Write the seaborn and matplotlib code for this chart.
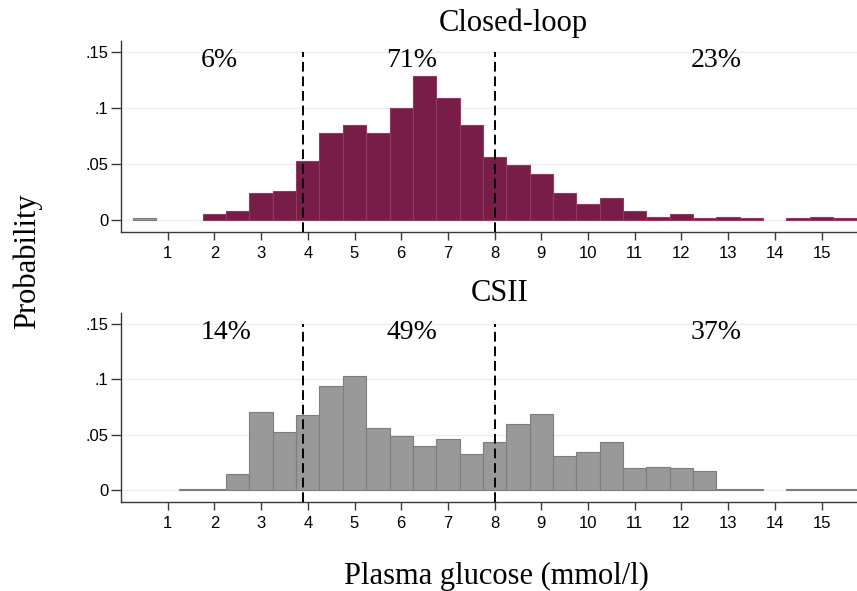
import numpy as np
import pandas as pd
import matplotlib
matplotlib.use("Agg")
import matplotlib.pyplot as plt
import seaborn as sns

# ---- data (bin midpoints in mmol/l, probability per 0.5 mmol/l bin) ----
cl_glucose = [2.0, 2.5, 3.0, 3.5, 4.0, 4.5, 5.0, 5.5, 6.0, 6.5, 7.0, 7.5, 8.0,
              8.5, 9.0, 9.5, 10.0, 10.5, 11.0, 11.5, 12.0, 12.5, 13.0, 13.5,
              14.5, 15.0, 15.5]
cl_prob = [0.005, 0.008, 0.024, 0.026, 0.053, 0.078, 0.085, 0.078, 0.100, 0.129,
           0.109, 0.085, 0.056, 0.049, 0.041, 0.024, 0.014, 0.020, 0.008, 0.003,
           0.005, 0.002, 0.003, 0.002, 0.002, 0.003, 0.002]
cl_grey_glucose = [0.5]
cl_grey_prob = [0.002]

csii_glucose = [1.5, 2.0, 2.5, 3.0, 3.5, 4.0, 4.5, 5.0, 5.5, 6.0, 6.5, 7.0, 7.5,
                8.0, 8.5, 9.0, 9.5, 10.0, 10.5, 11.0, 11.5, 12.0, 12.5, 13.0,
                13.5, 14.5, 15.0, 15.5]
csii_prob = [0.001, 0.001, 0.014, 0.070, 0.052, 0.068, 0.094, 0.103, 0.056, 0.049,
             0.040, 0.046, 0.032, 0.043, 0.060, 0.069, 0.031, 0.034, 0.043, 0.020,
             0.021, 0.020, 0.017, 0.001, 0.001, 0.001, 0.001, 0.001]

cutoffs = [3.9, 8.0]
cl_pct = ["6%", "71%", "23%"]
csii_pct = ["14%", "49%", "37%"]
pct_x = [1.7, 5.68, 12.2]
titles = ["Closed-loop", "CSII"]
yticks = [0, 0.05, 0.1, 0.15]
ytick_labels = ["0", ".05", ".1", ".15"]
xticks = list(range(1, 16))

MAROON = "#781d47"
MAROON_EDGE = "#8f3b62"
GREY = "#999999"
GREY_EDGE = "#7d7d7d"
GRID = "#e8eff0"
SPINE = "#3a3a3a"

sns.set_style("white")
plt.rcParams["font.family"] = ["Liberation Sans", "DejaVu Sans"]
plt.rcParams["text.color"] = "black"
SERIF = ["Liberation Serif", "DejaVu Serif"]

fig = plt.figure(figsize=(8.57, 5.91), dpi=100)
ax_top = fig.add_axes([121 / 857, 1 - 232 / 591, 1 - 121 / 857, (232 - 40.7) / 591])
ax_bot = fig.add_axes([121 / 857, 1 - 501.7 / 591, 1 - 121 / 857, (501.7 - 312.7) / 591])

ylo, yhi = -0.0108, 0.1604


def hist(ax, xs, ws, color, edge):
    df = pd.DataFrame({"glucose": xs, "prob": ws})
    lo = min(xs) - 0.25
    hi = max(xs) + 0.25
    before = len(ax.patches)
    sns.histplot(data=df, x="glucose", weights="prob", binwidth=0.5,
                 binrange=(lo, hi), ax=ax, color=color, edgecolor=edge,
                 alpha=1, linewidth=0.8, zorder=2)
    # drop empty bins so they leave no outline
    for p in list(ax.patches[before:]):
        if p.get_height() <= 0:
            p.remove()


def style(ax):
    ax.set_xlim(0, 15.76)
    ax.set_ylim(ylo, yhi)
    ax.set_yticks(yticks)
    ax.set_yticklabels(ytick_labels)
    ax.set_xticks(xticks)
    ax.set_xticklabels([str(t) for t in xticks])
    for y in yticks:
        ax.axhline(y, color=GRID, lw=1.0, zorder=0)
    for s in ["top", "right"]:
        ax.spines[s].set_visible(False)
    for s in ["left", "bottom"]:
        ax.spines[s].set_color(SPINE)
        ax.spines[s].set_linewidth(1.0)
    ax.tick_params(axis="y", left=True, direction="out", length=7, width=1,
                   color=SPINE, labelsize=12, pad=2, labelcolor="black")
    ax.tick_params(axis="x", bottom=True, direction="out", length=6, width=1,
                   color=SPINE, labelsize=12, pad=4, labelcolor="black")
    ax.set_xlabel("")
    ax.set_ylabel("")


hist(ax_top, cl_grey_glucose, cl_grey_prob, GREY, GREY_EDGE)
hist(ax_top, cl_glucose, cl_prob, MAROON, MAROON_EDGE)
hist(ax_bot, csii_glucose, csii_prob, GREY, GREY_EDGE)

for ax, pcts in [(ax_top, cl_pct), (ax_bot, csii_pct)]:
    style(ax)
    ax.vlines(cutoffs, ylo, 0.15, colors="black", linestyles=(0, (5, 2.5)),
              lw=1.4, zorder=3)
    for xp, t in zip(pct_x, pcts):
        ax.text(xp, 0.1425, t, ha="left", va="center", fontsize=20,
                family=SERIF, color="black")

fig.text(513 / 857, 1 - 23 / 591, titles[0], ha="center", va="center",
         fontsize=22, family=SERIF, color="black")
fig.text(500 / 857, 1 - 294 / 591, titles[1], ha="center", va="center",
         fontsize=22, family=SERIF, color="black")
fig.text(27 / 857, 1 - 261 / 591, "Probability", ha="center", va="center",
         rotation=90, fontsize=22, family=SERIF, color="black")
fig.text(496 / 857, 1 - 576 / 591, "Plasma glucose (mmol/l)", ha="center",
         va="center", fontsize=22, family=SERIF, color="black")

fig.savefig("out.png", dpi=100)
